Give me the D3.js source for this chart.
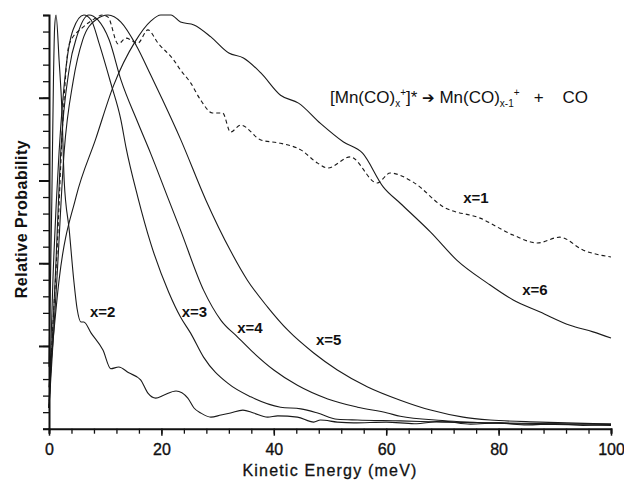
<!DOCTYPE html>
<html>
<head>
<meta charset="utf-8">
<script src="https://cdn.jsdelivr.net/npm/d3@7"></script>
<style>
  body { margin: 0; background: #fff; }
  svg { font-family: 'Liberation Sans', Arial, sans-serif; }
  .curve { fill: none; stroke: #1a1a1a; stroke-width: 1.1; }
  .tickLabel { font-size: 16px; fill: #111; stroke: #111; stroke-width: 0.35; }
  .curveLabel { font-size: 15px; font-weight: bold; fill: #111; }
</style>
</head>
<body>
<div id="chart"></div>
<script>
// setup canvas parameter
var width = 624, height = 480;

// data: [kinetic energy (meV), relative probability]
var seriesX1 = [[0,0.05],[0.5,0.2],[1.5,0.45],[2.3,0.7],[3.6,0.93],[6,0.97],[8,0.99],[9.5,1.0],[10.5,0.995],
  [12.3,0.93],[13.7,0.944],[15.8,0.932],[17.6,0.964],[19.4,0.932],[22.2,0.891],[23.4,0.867],[25.2,0.836],
  [27,0.794],[29.1,0.763],[30.9,0.763],[32.3,0.717],[34.1,0.734],[37.7,0.698],[41.2,0.69],[44.8,0.674],
  [47.8,0.642],[49.6,0.63],[53.6,0.657],[58.4,0.594],[60.7,0.618],[64.8,0.596],[70.2,0.536],[76.7,0.509],
  [82.6,0.468],[86.9,0.449],[90.9,0.463],[95,0.432],[100,0.415]];
var seriesX2 = [[0,0.15],[0.5,0.55],[0.8,0.85],[1.0,0.97],[1.25,1.0],[1.8,0.89],[2.3,0.77],[2.7,0.6],[3.6,0.48],
  [4.4,0.36],[5,0.29],[5.7,0.258],[6.2,0.258],[7.5,0.231],[9.6,0.19],[11,0.145],[12.4,0.149],[14.2,0.135],
  [16.3,0.118],[17.6,0.086],[19,0.074],[20.4,0.081],[22.6,0.091],[24.7,0.074],[25.8,0.05],[27,0.038],
  [28.8,0.028],[30.6,0.033],[32.3,0.038],[34.5,0.045],[36.4,0.038],[38.9,0.028],[40.7,0.031],[44.2,0.028],
  [47.1,0.016],[48.3,0.021],[51.3,0.016],[54.2,0.014],[60,0.016],[65,0.012],[70,0.018],[75,0.011],
  [80,0.014],[85,0.009],[90,0.012],[95,0.008],[100,0.01]];
var seriesX3 = [[0,0.05],[0.7,0.36],[1.8,0.67],[3,0.87],[4.3,0.965],[6.2,1.0],[7.5,0.988],[8.9,0.932],[11,0.835],
  [12.8,0.746],[13.7,0.68],[15.8,0.56],[18.1,0.448],[21.3,0.33],[23.4,0.27],[25.2,0.231],[27.5,0.173],
  [31.8,0.11],[35.9,0.077],[41.2,0.052],[44.8,0.048],[47.8,0.038],[51.3,0.023],[54.9,0.021],[62.5,0.019],
  [70,0.016],[80,0.014],[90,0.012],[100,0.011]];
var seriesX4 = [[0,0.05],[1.1,0.36],[2.1,0.67],[3.6,0.87],[5,0.95],[7.1,1.0],[8.7,0.988],[10.7,0.94],[12.8,0.843],
  [15.8,0.74],[18.1,0.665],[21.3,0.553],[23.4,0.48],[27.5,0.335],[30.6,0.262],[33.6,0.221],[35.9,0.19],
  [40,0.142],[44.2,0.105],[49.6,0.072],[54.9,0.052],[60.2,0.038],[62.5,0.03],[70,0.02],[80,0.013],
  [90,0.01],[100,0.008]];
var seriesX5 = [[0,0.05],[1.4,0.36],[2.7,0.67],[4.3,0.84],[6,0.94],[8.3,0.988],[10.5,1.0],[12.8,0.983],[15.5,0.927],
  [18.1,0.855],[20.2,0.795],[23.4,0.7],[27.9,0.553],[32.3,0.43],[35.3,0.359],[38.9,0.294],[42.5,0.238],
  [47.1,0.183],[51.3,0.142],[56.7,0.101],[62.5,0.069],[67.9,0.045],[73.7,0.028],[78.5,0.021],[87.4,0.016],
  [100,0.011]];
var seriesX6 = [[0,0.1],[1.8,0.36],[4.8,0.56],[8.3,0.7],[11.5,0.83],[15.3,0.935],[18.1,0.985],[19.9,1.0],[21.7,1.0],
  [23.4,0.983],[25.8,0.976],[28.8,0.947],[32,0.908],[34.6,0.896],[37.7,0.86],[41.2,0.806],[44.4,0.787],
  [48.3,0.738],[52.4,0.693],[55.8,0.666],[59.5,0.584],[62.5,0.545],[67.9,0.475],[72.6,0.407],[78,0.352],
  [82.6,0.311],[87.4,0.282],[92.7,0.25],[96.8,0.234],[100,0.219]];

var xTickValues = [0, 20, 40, 60, 80, 100];
var curveNames = ['x=1', 'x=2', 'x=3', 'x=4', 'x=5', 'x=6'];
var curveLabelAt = [[73.7, 0.546], [7.3, 0.27], [23.6, 0.27], [33.5, 0.231], [47.5, 0.203], [84.2, 0.323]];

var svg = d3.select('#chart')
    .append('svg')
    .attr('width', width)
    .attr('height', height);

var xScale = d3.scaleLinear().domain([0, 100]).range([49, 611]);
var yScale = d3.scaleLinear().domain([0, 1]).range([428.7, 15]);

// curves
var line = d3.line()
    .x(function(d){ return xScale(d[0]); })
    .y(function(d){ return yScale(d[1]); })
    .curve(d3.curveMonotoneX);

var allSeries = [seriesX1, seriesX2, seriesX3, seriesX4, seriesX5, seriesX6];
svg.selectAll('.curve')
    .data(allSeries)
    .enter()
    .append('path')
    .attr('class', 'curve')
    .attr('d', line)
    .attr('stroke-dasharray', function(d, i){ return i == 0 ? '4,3' : null; });

// x axis: minor ticks every 4 meV, labels every 20
var xAxisG = svg.append('g')
    .attr('transform', 'translate(0,' + yScale(0) + ')')
    .call(d3.axisBottom(xScale).tickValues(d3.range(0, 101, 4)).tickSize(5).tickFormat(''));
xAxisG.select('.domain').attr('stroke-width', 2).attr('stroke', '#111');
xAxisG.selectAll('.tick line').attr('stroke', '#111').attr('stroke-width', 1.3);

var xMajorG = svg.append('g')
    .attr('transform', 'translate(0,' + yScale(0) + ')')
    .call(d3.axisBottom(xScale).tickValues(xTickValues).tickSize(7).tickPadding(8));
xMajorG.select('.domain').remove();
xMajorG.selectAll('.tick line').attr('stroke', '#111').attr('stroke-width', 1.5);
xMajorG.selectAll('.tick text').attr('class', 'tickLabel').attr('font-size', null).attr('font-family', null);

// y axis: no labels, minor every 0.04, major every 0.2
var yAxisG = svg.append('g')
    .attr('transform', 'translate(' + xScale(0) + ',0)')
    .call(d3.axisLeft(yScale).tickValues(d3.range(0, 1.001, 0.04)).tickSize(6).tickFormat(''));
yAxisG.select('.domain').attr('stroke-width', 2).attr('stroke', '#111');
yAxisG.selectAll('.tick line').attr('stroke', '#111').attr('stroke-width', 1.3);

var yMajorG = svg.append('g')
    .attr('transform', 'translate(' + xScale(0) + ',0)')
    .call(d3.axisLeft(yScale).tickValues([0.2, 0.4, 0.6, 0.8]).tickSize(10).tickFormat(''));
yMajorG.select('.domain').remove();
yMajorG.selectAll('.tick line').attr('stroke', '#111').attr('stroke-width', 2);

// axis titles
svg.append('text')
    .attr('x', 330)
    .attr('y', 476)
    .attr('text-anchor', 'middle')
    .attr('font-size', 16)
    .attr('letter-spacing', 1.2)
    .attr('fill', '#111')
    .attr('stroke', '#111')
    .attr('stroke-width', 0.3)
    .text('Kinetic  Energy  (meV)');

svg.append('text')
    .attr('transform', 'translate(27,219) rotate(-90)')
    .attr('text-anchor', 'middle')
    .attr('font-size', 16)
    .attr('font-weight', 'bold')
    .attr('letter-spacing', 0.5)
    .attr('fill', '#111')
    .text('Relative  Probability');

// curve labels
svg.selectAll('.curveLabel')
    .data(curveNames)
    .enter()
    .append('text')
    .attr('class', 'curveLabel')
    .attr('x', function(d, i){ return xScale(curveLabelAt[i][0]); })
    .attr('y', function(d, i){ return yScale(curveLabelAt[i][1]); })
    .text(function(d){ return d; });

// reaction annotation
var eq = svg.append('text')
    .attr('x', xScale(50))
    .attr('y', yScale(0.787))
    .attr('font-size', 17)
    .attr('fill', '#111')
    .attr('xml:space', 'preserve');
eq.append('tspan').text('[Mn(CO)');
eq.append('tspan').attr('font-size', 10).attr('dy', 4).text('x');
eq.append('tspan').attr('font-size', 10).attr('dy', -11).text('+');
eq.append('tspan').attr('dy', 7).text(']*\u00a0');
eq.append('tspan').attr('font-family', 'DejaVu Sans').attr('font-size', 15).text('\u2794');
eq.append('tspan').text('\u00a0Mn(CO)');
eq.append('tspan').attr('font-size', 10).attr('dy', 4).text('x-1');
eq.append('tspan').attr('font-size', 10).attr('dy', -11).text('+');
eq.append('tspan').attr('dy', 7).text('\u00a0\u00a0\u00a0+\u00a0\u00a0\u00a0\u00a0CO');
</script>
</body>
</html>
